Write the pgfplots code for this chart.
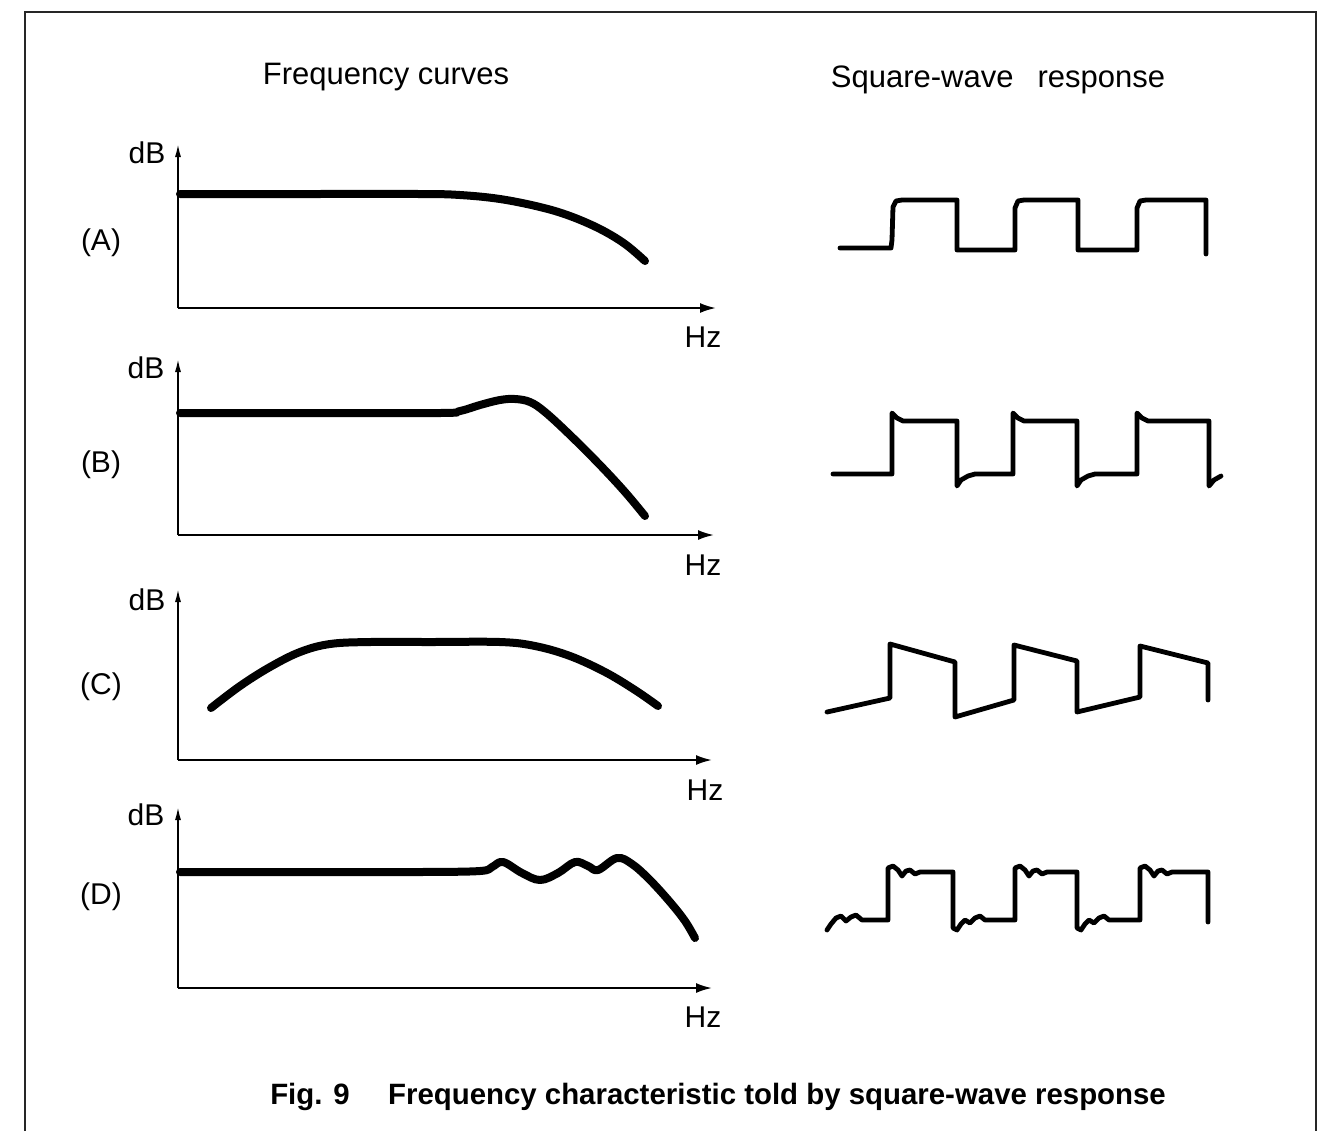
\documentclass[border=0pt]{standalone}
\usepackage{fontspec}
\setmainfont{Liberation Sans}
\usepackage{pgfplots}
\pgfplotsset{compat=1.18}
\usetikzlibrary{arrows.meta}

% all coordinates are in pixels of the 1319x1131 figure, y counted downwards
\pgfplotsset{
  curve/.style={black, line width=4pt, line cap=round, line join=round, smooth, tension=0.6},
  wave/.style={black, line width=2.4pt, line cap=round, line join=round},
  axisline/.style={black, line width=1pt},
  frame/.style={black!85, line width=1.2pt},
}
\newcommand{\lbl}{\fontsize{15}{18}\selectfont}

\begin{document}
\begin{tikzpicture}
\begin{axis}[
  scale only axis,
  width=659.5pt, height=565.5pt,
  xmin=0, xmax=1319, ymin=0, ymax=1131,
  y dir=reverse,
  hide axis,
  clip=false,
]
% frame
\addplot[draw=none] coordinates {(0,0) (1319,1131)};
\addplot[frame] coordinates {(25,1131) (25,12) (1316,12) (1316,1131)};

% titles
\node at (axis cs:386,77) {\fontsize{15.5}{18}\selectfont Frequency curves};
\node at (axis cs:998,80) {\fontsize{15.5}{18}\selectfont Square-wave\hspace{12pt}response};
\node[anchor=base] at (axis cs:310,1104) {\fontsize{14.7}{18}\selectfont\bfseries Fig. 9};
\node[anchor=base] at (axis cs:777,1104) {\fontsize{14.7}{18}\selectfont\bfseries Frequency characteristic told by square-wave response};

% ---------- (A) ----------
\addplot[axisline, -{Latex[length=7pt,width=3pt]}] coordinates {(178,308) (178,143)};
\addplot[axisline, -{Latex[length=8pt,width=5pt]}] coordinates {(178,308) (716,308)};
\node at (axis cs:147,153) {\lbl dB};
\node at (axis cs:703,337) {\lbl Hz};
\node at (axis cs:101,243) {\lbl (A)};
\addplot[curve] coordinates {
  (180,194) (300,194) (420,194) (460,195) (500,199) (540,207) (570,216)
  (600,229) (625,244) (645,261)
};
\addplot[wave] coordinates {
  (840,248) (891,248) (892,240) (893,207) (896,201) (902,200) (957,200)
  (957,250) (1015,250) (1015,208) (1018,201) (1024,200) (1078,200)
  (1078,250) (1137,250) (1137,208) (1140,201) (1146,200) (1206,200) (1206,254)
};

% ---------- (B) ----------
\addplot[axisline, -{Latex[length=7pt,width=3pt]}] coordinates {(178,535) (178,358)};
\addplot[axisline, -{Latex[length=8pt,width=5pt]}] coordinates {(178,535) (714,535)};
\node at (axis cs:146,368) {\lbl dB};
\node at (axis cs:703,565) {\lbl Hz};
\node at (axis cs:101,465) {\lbl (B)};
\addplot[curve] coordinates {
  (180,413) (300,413) (440,413) (460,411) (480,405) (500,400) (515,399)
  (530,402) (545,412) (570,435) (600,465) (625,492) (645,516)
};
\addplot[wave] coordinates {
  (833,474) (892,474) (892,413) (897,418) (903,421) (957,421)
  (957,486) (961,480) (968,476) (975,474) (1013,474) (1013,413) (1018,418)
  (1024,421) (1077,421) (1077,486) (1081,480) (1088,476) (1095,474)
  (1137,474) (1137,413) (1142,418) (1148,421) (1209,421) (1209,486)
  (1214,480) (1221,476)
};

% ---------- (C) ----------
\addplot[axisline, -{Latex[length=7pt,width=3pt]}] coordinates {(178,760) (178,588)};
\addplot[axisline, -{Latex[length=8pt,width=5pt]}] coordinates {(178,760) (712,760)};
\node at (axis cs:147,600) {\lbl dB};
\node at (axis cs:705,790) {\lbl Hz};
\node at (axis cs:101,687) {\lbl (C)};
\addplot[curve] coordinates {
  (211,708) (240,686) (270,667) (300,652) (330,644) (370,642)
  (430,642) (500,642) (535,646) (570,656) (605,672) (635,690) (658,706)
};
\addplot[wave] coordinates {
  (827,712) (890,698) (890,644) (955,662) (955,717) (1014,700) (1014,645)
  (1077,661) (1077,712) (1140,697) (1140,646) (1208,663) (1208,700)
};

% ---------- (D) ----------
\addplot[axisline, -{Latex[length=7pt,width=3pt]}] coordinates {(178,988) (178,806)};
\addplot[axisline, -{Latex[length=8pt,width=5pt]}] coordinates {(178,988) (712,988)};
\node at (axis cs:146,815) {\lbl dB};
\node at (axis cs:703,1017) {\lbl Hz};
\node at (axis cs:101,897) {\lbl (D)};
\addplot[curve] coordinates {
  (180,872) (300,872) (420,872) (480,871) (492,867) (503,862)
  (522,873) (540,880) (558,873) (575,862) (588,866) (598,870)
  (617,858) (632,864) (650,880) (670,902) (685,921) (695,938)
};
\addplot[wave] coordinates {
  (827,930) (831,924) (836,918) (841,916) (846,921) (851,917) (856,915)
  (862,920) (888,920) (888,868) (893,866) (898,870) (902,876) (906,871)
  (910,870) (915,874) (920,872) (953,872) (953,928) (957,930) (961,924)
  (965,920) (970,923) (975,918) (980,916) (985,920) (1015,920) (1015,868)
  (1020,866) (1025,870) (1029,876) (1033,871) (1037,870) (1042,874)
  (1047,872) (1077,872) (1077,928) (1081,930) (1085,924) (1089,920)
  (1094,923) (1099,918) (1104,916) (1109,920) (1140,920) (1140,868)
  (1145,866) (1150,870) (1154,876) (1158,871) (1162,870) (1167,874)
  (1172,872) (1208,872) (1208,922)
};
\end{axis}
\end{tikzpicture}
\end{document}
